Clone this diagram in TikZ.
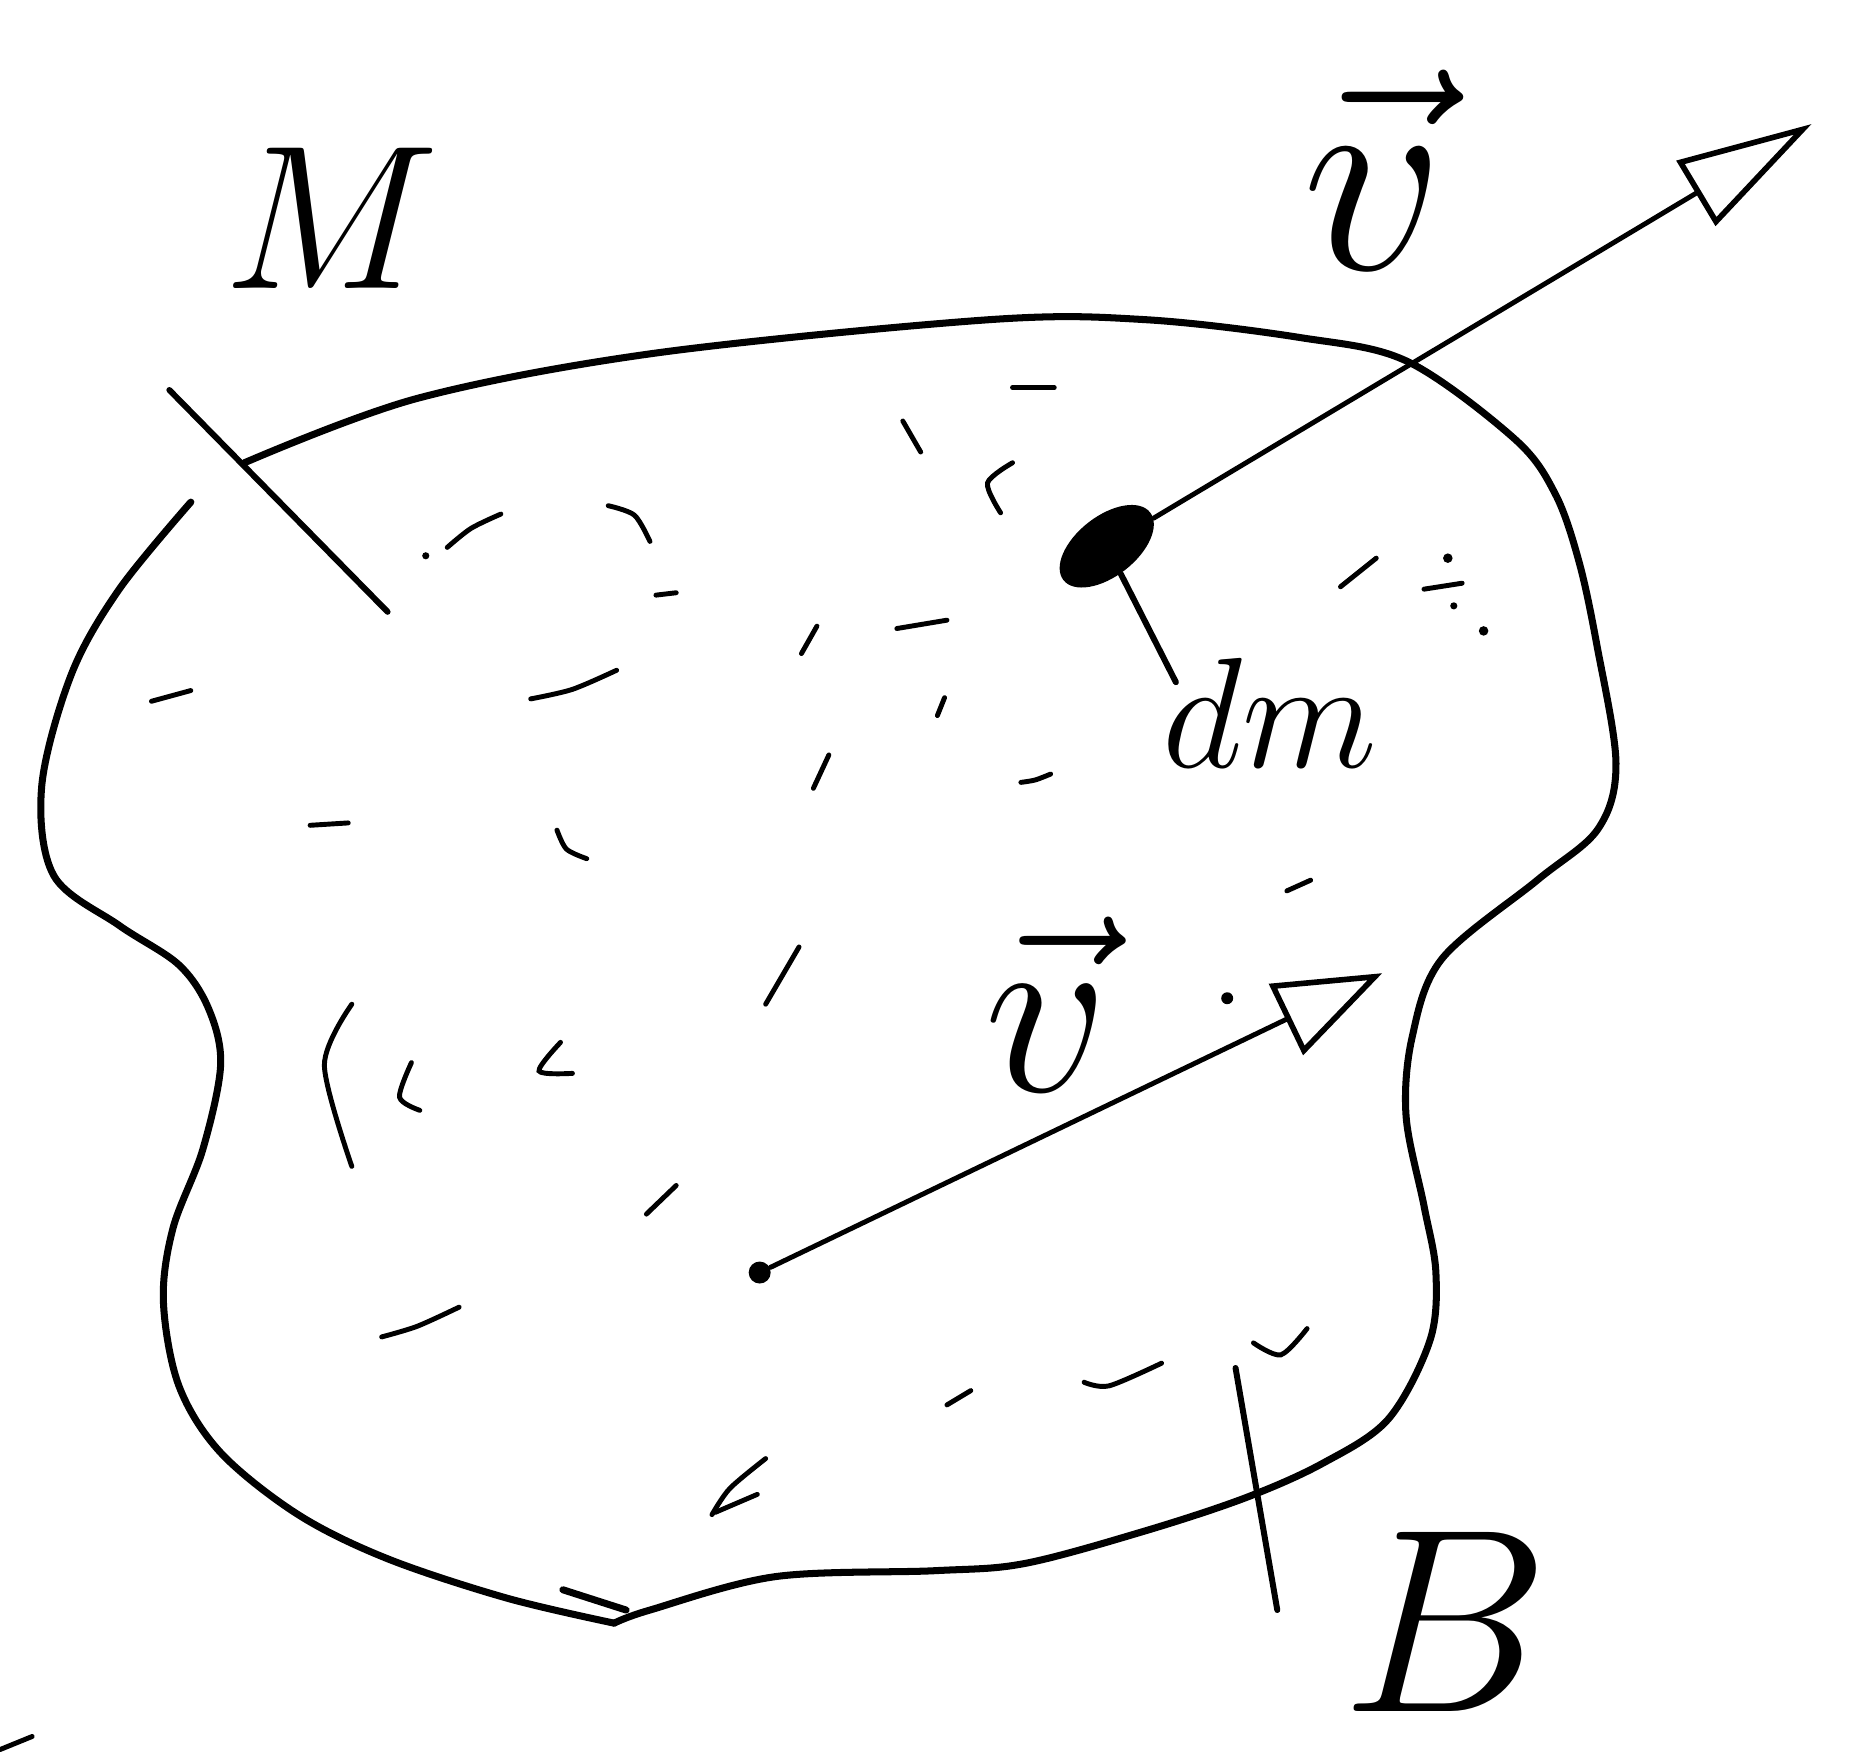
\documentclass[tikz,border=0pt]{standalone}
\usepackage{tikz}
\usetikzlibrary{arrows.meta,shapes.geometric}

\tikzset{
  outline/.style={line width=2pt,line cap=round,line join=round},
  fleck/.style={line width=1.4pt,line cap=round},
  leader/.style={line width=1.7pt,line cap=round},
  vecarrow/.style={line width=1.4pt,line cap=round,
    -{Triangle[open,#1,line width=1.6pt]}},
  lbl/.style={inner sep=0pt,font=\Huge,transform shape},
  blob/.style={ellipse,fill=black,minimum width=1.1cm,minimum height=0.6cm,
    inner sep=0pt,rotate=38},
}

\begin{document}
\begin{tikzpicture}[x=0.011926cm,y=-0.011926cm]
  \useasboundingbox (0,0) rectangle (1568,1474);

  % the body B
  \draw[outline] plot[smooth,tension=0.55] coordinates {
    (160,421) (100,494) (60,565) (35,659) (45,734) (100,776) (150,809)
    (175,846) (185,893) (170,964) (145,1030) (137,1091) (150,1162)
    (185,1218) (250,1270) (325,1307) (425,1340) (515,1361)};
  \draw[outline] plot[smooth,tension=0.55] coordinates {
    (515,1361) (545,1350) (650,1322) (784,1317) (859,1311)
    (959,1284) (1044,1256) (1109,1227) (1164,1190) (1199,1124)
    (1204,1067) (1194,1011) (1179,936) (1184,870) (1209,804) (1289,738)
    (1340,695) (1355,640) (1339,541) (1324,471) (1304,414)
    (1270,368) (1180,303) (1090,283) (960,268) (830,268) (550,296)
    (350,334) (205,388)};
  \draw[outline] (472,1333) -- (525,1350);

  % flecks of matter
  \draw[fleck] (849,325) -- (884,325);
  \draw[fleck] (757,353) -- (772,379);
  \draw[fleck] plot[smooth] coordinates {(849,388) (828,405) (839,430)};
  \fill (357,466) circle (3);
  \draw[fleck] plot[smooth] coordinates {(375,459) (395,443) (420,431)};
  \draw[fleck] plot[smooth] coordinates {(510,424) (532,432) (545,454)};
  \draw[fleck] (550,499) -- (567,497);
  \draw[fleck] (127,588) -- (160,579);
  \draw[fleck] plot[smooth] coordinates {(445,586) (480,578) (517,562)};
  \draw[fleck] (672,548) -- (685,525);
  \draw[fleck] (752,527) -- (794,520);
  \draw[fleck] (786,600) -- (792,585);
  \draw[fleck] (682,661) -- (695,633);
  \draw[fleck] plot[smooth] coordinates {(856,656) (868,654) (881,649)};
  \draw[fleck] (260,692) -- (292,690);
  \draw[fleck] plot[smooth] coordinates {(467,696) (475,712) (492,720)};
  \draw[fleck] (1124,492) -- (1154,468);
  \draw[fleck] (1194,494) -- (1226,489);
  \fill (1214,468) circle (4);
  \fill (1219,508) circle (3);
  \fill (1244,529) circle (4);
  \draw[fleck] (1079,747) -- (1099,738);
  \draw[fleck] (670,794) -- (642,842);
  \fill (1029,837) circle (5);
  \draw[fleck] plot[smooth] coordinates {(295,842) (272,893) (295,978)};
  \draw[fleck] plot[smooth] coordinates {(345,891) (335,920) (352,931)};
  \draw[fleck] plot[smooth] coordinates {(470,874) (452,898) (480,900)};
  \draw[fleck] (567,994) -- (542,1018);
  \draw[fleck] plot[smooth] coordinates {(320,1121) (350,1112) (385,1096)};
  \draw[fleck] (794,1178) -- (814,1166);
  \draw[fleck] plot[smooth] coordinates {(909,1159) (930,1162) (974,1143)};
  \draw[fleck] plot[smooth] coordinates {(1051,1126) (1074,1136) (1096,1114)};
  \draw[fleck] plot[smooth] coordinates {(642,1223) (612,1248) (597,1270)};
  \draw[fleck] (635,1253) -- (600,1268);
  \draw[fleck] (0,1467) -- (27,1456);

  % mass element and its velocity
  \node[blob] (elem) at (928,458) {};
  \coordinate (elemtip) at (1519,104);
  \draw[vecarrow={length=1.35cm,width=0.75cm}] (elem) -- (elemtip);
  \node[lbl,scale=3.2] (vtop) at (1152,142) {$\vec{v}$};

  \coordinate (dmend) at (986,572);
  \draw[leader] (elem) -- (dmend);
  \node[lbl,scale=1.8] (dmlabel) at (1065,598) {$dm$};

  % centre of mass and its velocity
  \node[circle,fill=black,minimum size=0.22cm,inner sep=0pt] (com) at (637,1067) {};
  \coordinate (comtip) at (1159,816);
  \draw[vecarrow={length=1.07cm,width=0.78cm}] (com) -- (comtip);
  \node[lbl,scale=2.8] (vmid) at (878,842) {$\vec{v}$};

  % labels M and B
  \node[lbl,scale=2.35] (mass) at (278,183) {$M$};
  \coordinate (mtop) at (142,327);
  \coordinate (mbot) at (325,513);
  \draw[leader] (mtop) -- (mbot);

  \node[lbl,scale=3.0] (body) at (1212,1360) {$B$};
  \coordinate (btop) at (1036,1147);
  \coordinate (bbot) at (1071,1350);
  \draw[leader] (btop) -- (bbot);
\end{tikzpicture}
\end{document}
